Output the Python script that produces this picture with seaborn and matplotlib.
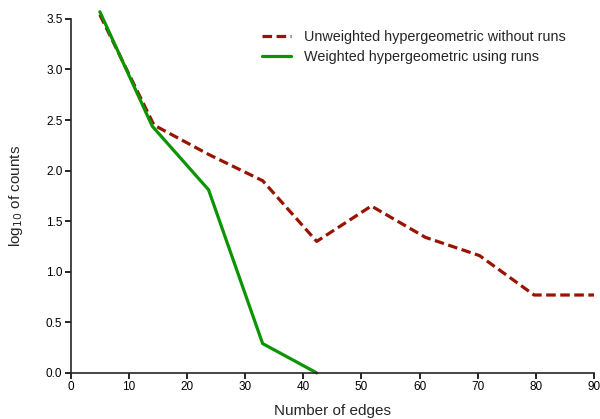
import pandas as pd
import numpy as np
import matplotlib
matplotlib.use("Agg")
import matplotlib.pyplot as plt
import seaborn as sns

# values
edges = [5, 14.3, 23.7, 33, 42.3, 51.7, 61, 70.3, 79.7, 90]
unweighted = [3.54, 2.45, 2.16, 1.90, 1.30, 1.65, 1.34, 1.16, 0.77, 0.77]
weighted_edges = [5, 14, 23.7, 33, 42.3]
weighted = [3.57, 2.44, 1.81, 0.29, 0.0]

labels = ["Unweighted hypergeometric without runs", "Weighted hypergeometric using runs"]
colors = ["#991400", "#0a9400"]

sns.set_theme(style="ticks")
plt.rcParams['font.family'] = ['Liberation Sans', 'DejaVu Sans']

fig = plt.figure(figsize=(6, 4.19), dpi=100)
ax = fig.add_axes([0.118, 0.110, 0.872, 0.845])

df_u = pd.DataFrame({"edges": edges, "log": unweighted})
df_w = pd.DataFrame({"edges": weighted_edges, "log": weighted})

sns.lineplot(data=df_u, x="edges", y="log", ax=ax, color=colors[0], linewidth=2.3,
             linestyle=(0, (3, 1.4)), label=labels[0], clip_on=False)
sns.lineplot(data=df_w, x="edges", y="log", ax=ax, color=colors[1], linewidth=2.3,
             label=labels[1], clip_on=False)

ax.set_xlim(0, 90)
ax.set_ylim(0, 3.5)
ax.set_xticks(np.arange(0, 91, 10))
ax.set_yticks(np.arange(0, 3.51, 0.5))
ax.set_yticklabels([f"{v:.1f}" for v in np.arange(0, 3.51, 0.5)])
sns.despine(ax=ax)
ax.spines['left'].set_linewidth(1.2)
ax.spines['bottom'].set_linewidth(1.2)
ax.tick_params(axis='both', direction='out', length=4, width=1.2, labelsize=8.5, pad=2, colors='black')

ax.set_xlabel("Number of edges", fontsize=11, labelpad=8)
ax.set_ylabel("log$_{10}$ of counts", fontsize=11, labelpad=15)

ax.legend(loc='upper right', bbox_to_anchor=(0.97, 1.005), frameon=False, fontsize=10.4,
          handlelength=2.0, handletextpad=0.9, labelspacing=0.4)

fig.savefig("out.png", dpi=100)
